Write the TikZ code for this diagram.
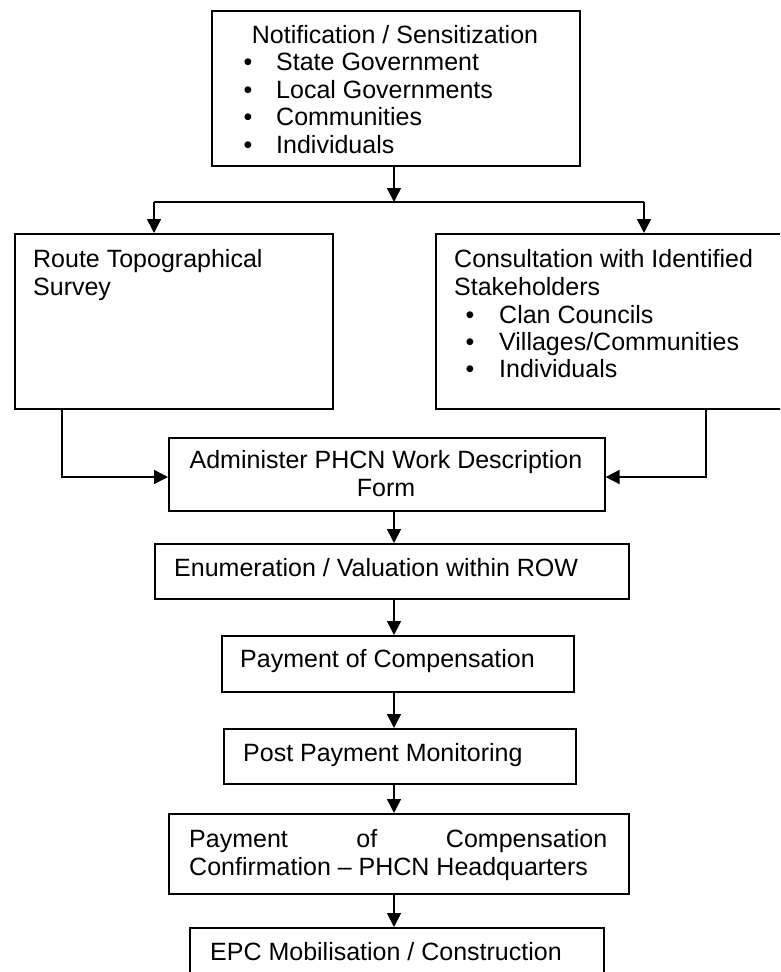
\documentclass[tikz,border=0pt]{standalone}
\usepackage{fontspec}
\setmainfont{Liberation Sans}
\usetikzlibrary{arrows.meta}
\begin{document}
\begin{tikzpicture}[x=1pt,y=-1pt,
  box/.style={draw, line width=1.6pt, inner sep=0pt, anchor=north west},
  txt/.style={anchor=base west, inner sep=0pt, font=\fontsize{25}{28}\selectfont},
  ctxt/.style={txt, anchor=base},
  bul/.style={txt, anchor=base},
  ln/.style={line width=1.6pt},
  arr/.style={line width=1.6pt, -{Triangle[width=14pt,length=14pt]}}]
\useasboundingbox (0,0) rectangle (780,972);
\clip (0,0) rectangle (780,972);
% boxes
\node[box, minimum width=368pt, minimum height=155pt] (top) at (211,10) {};
\node[box, minimum width=318pt, minimum height=175pt] (route) at (14,233) {};
\node[box, minimum width=365pt, minimum height=175pt] (cons) at (435,233) {};
\node[box, minimum width=436pt, minimum height=73pt] (admin) at (168,437) {};
\node[box, minimum width=474pt, minimum height=55pt] (enum) at (154,543) {};
\node[box, minimum width=352pt, minimum height=56pt] (pay) at (221,635) {};
\node[box, minimum width=352pt, minimum height=55pt] (post) at (223,728) {};
\node[box, minimum width=460pt, minimum height=80pt] (conf) at (168,813) {};
\node[box, minimum width=414pt, minimum height=70pt] (epc) at (189,927) {};
% texts: top box
\node[ctxt] (t0) at (395,43) {Notification / Sensitization};
\node[bul] (b1) at (248,70.5) {•};
\node[txt] (t1) at (276,70.5) {State Government};
\node[bul] (b2) at (248,98) {•};
\node[txt] (t2) at (276,98) {Local Governments};
\node[bul] (b3) at (248,125.5) {•};
\node[txt] (t3) at (276,125.5) {Communities};
\node[bul] (b4) at (248,153) {•};
\node[txt] (t4) at (276,153) {Individuals};
% route box
\node[txt] (r1) at (33,267) {Route Topographical};
\node[txt] (r2) at (33,295) {Survey};
% consultation box
\node[txt] (c1) at (454,267) {Consultation with Identified};
\node[txt] (c2) at (454,295) {Stakeholders};
\node[bul] (cb1) at (470,323) {•};
\node[txt] (c3) at (499,323) {Clan Councils};
\node[bul] (cb2) at (470,350) {•};
\node[txt] (c4) at (499,350) {Villages/Communities};
\node[bul] (cb3) at (470,377.5) {•};
\node[txt] (c5) at (499,377.5) {Individuals};
% admin
\node[ctxt] (a1) at (386,468) {Administer PHCN Work Description};
\node[ctxt] (a2) at (386,496) {Form};
% others
\node[txt] (e1) at (174,576) {Enumeration / Valuation within ROW};
\node[txt] (p1) at (240,667) {Payment of Compensation};
\node[txt] (m1) at (243,761) {Post Payment Monitoring};
\node[txt] (f1) at (189,847) {\hbox to 418pt{Payment\hfill of\hfill Compensation}};
\node[txt] (f2) at (189,875) {Confirmation – PHCN Headquarters};
\node[txt] (g1) at (210,960) {EPC Mobilisation / Construction};
% connectors
\coordinate (jl) at (154,202);
\coordinate (jr) at (644,202);
\coordinate (jm) at (394,202);
\draw[arr] (jm |- top.south) -- (jm);
\draw[ln] (jl) -- (jr);
\draw[arr] (jl) -- (jl |- route.north);
\draw[arr] (jr) -- (jr |- cons.north);
\coordinate (lc) at (62,477);
\coordinate (rc) at (706,477);
\draw[arr] (lc |- route.south) -- (lc) -- (lc -| admin.west);
\draw[arr] (rc |- cons.south) -- (rc) -- (rc -| admin.east);
\draw[arr] (jm |- admin.south) -- (jm |- enum.north);
\draw[arr] (jm |- enum.south) -- (jm |- pay.north);
\draw[arr] (jm |- pay.south) -- (jm |- post.north);
\draw[arr] (jm |- post.south) -- (jm |- conf.north);
\draw[arr] (jm |- conf.south) -- (jm |- epc.north);
\end{tikzpicture}
\end{document}
